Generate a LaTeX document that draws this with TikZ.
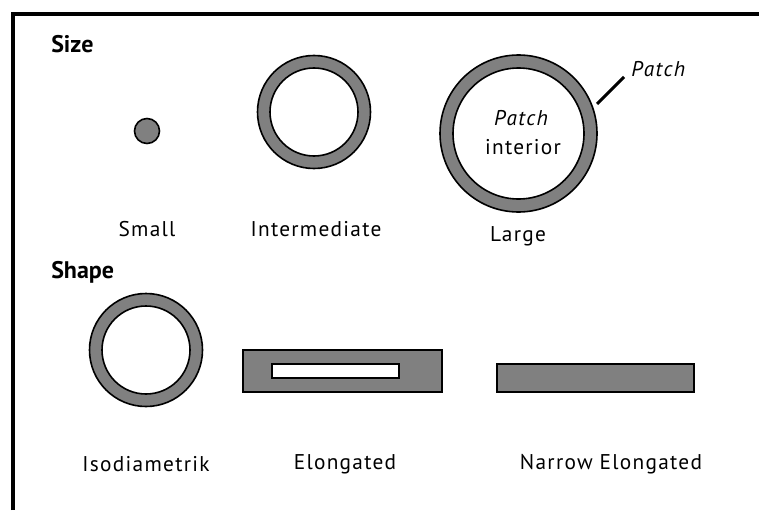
\documentclass[tikz,border=0pt]{standalone}
\usepackage{fontspec}
\setmainfont{PT Sans}
\newfontfamily\lblfont[LetterSpace=6]{PT Sans}
\begin{document}
\begin{tikzpicture}[x=0.75pt,y=-0.75pt,
  ring/.style={draw=black,line width=1.2pt,fill=patchgray,even odd rule},
  solid/.style={draw=black,line width=1.2pt,fill=patchgray},
  lbl/.style={font=\lblfont\fontsize{16}{18}\selectfont,inner sep=0pt},
  ilbl/.style={font=\lblfont\fontsize{16}{18}\selectfont\itshape,inner sep=0pt},
  head/.style={font=\fontsize{18}{20}\selectfont\bfseries,inner sep=0pt,anchor=west}]
\definecolor{patchgray}{HTML}{808080}
\useasboundingbox (0,0) rectangle (759,510);
% frame
\draw[line width=3pt] (12.5,510) -- (12.5,14) -- (759,14);
% headings
\node[head] (size) at (51,44) {Size};
\node[head] (shape) at (51,272) {Shape};
% size circles
\fill[solid] (147,131) circle[radius=12.5];
\path[ring] (314,112) circle[radius=56.5] (314,112) circle[radius=44];
\path[ring] (518.5,133.5) circle[radius=78.5] (518.5,133.5) circle[radius=65.5];
\node[ilbl] (pin) at (521,118) {Patch};
\node[lbl] (pint) at (523,147) {interior};
\coordinate (lead1) at (597,104);
\coordinate (lead2) at (624,77);
\draw[line width=2.2pt] (lead1) -- (lead2);
\node[ilbl,anchor=west] (plab) at (631,69) {Patch};
\node[lbl] (small) at (147,229) {Small};
\node[lbl] (inter) at (316,229) {Intermediate};
\node[lbl] (large) at (518,236) {Large};
% shape
\path[ring] (146,350) circle[radius=56.5] (146,350) circle[radius=44];
\path[ring] (243,350) rectangle (442,392) (272,364) rectangle (399,378);
\path[solid] (497,364) rectangle (694,392);
\node[lbl] (iso) at (146,464) {Isodiametrik};
\node[lbl] (elo) at (345,464) {Elongated};
\node[lbl] (nar) at (611,464) {Narrow Elongated};
\end{tikzpicture}
\end{document}
